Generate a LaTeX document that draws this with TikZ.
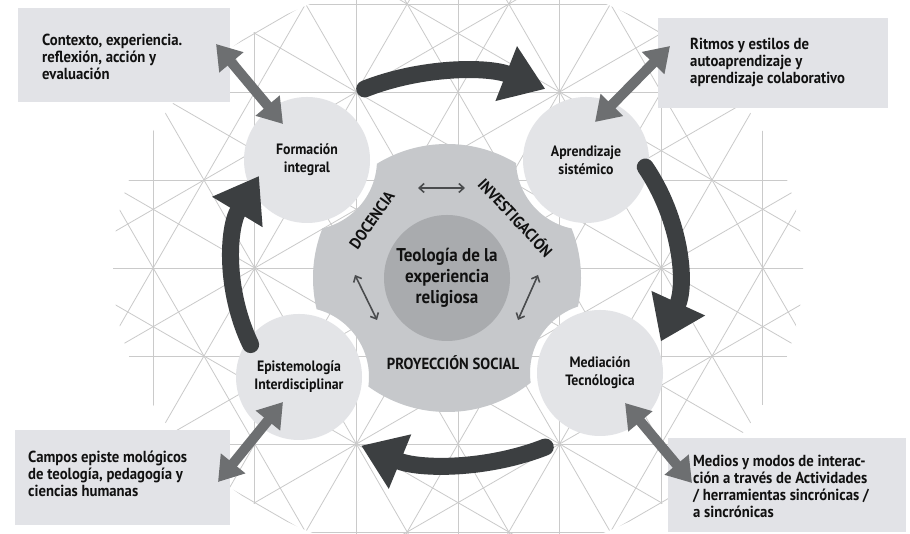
\documentclass[tikz,border=0pt]{standalone}
\usepackage{fontspec}
\setmainfont{PT Sans}[FakeStretch=0.92]
\usetikzlibrary{arrows.meta,calc}
\definecolor{boxgray}{HTML}{E2E3E7}
\definecolor{circgray}{HTML}{E3E4E7}
\definecolor{midgray}{HTML}{C6C8CB}
\definecolor{innergray}{HTML}{A9ABAE}
\definecolor{darkarrow}{HTML}{3C3F41}
\definecolor{medarrow}{HTML}{6D6F71}
\definecolor{smallarrow}{HTML}{4A4C4E}
\definecolor{latt}{HTML}{CACACA}
\definecolor{txt}{HTML}{111111}
\begin{document}
\begin{tikzpicture}[x=1pt,y=1pt,
  infobox/.style={fill=boxgray, draw=none, anchor=south west, inner sep=0},
  infotext/.style={anchor=west, align=left, font=\fontsize{16}{17}\selectfont\bfseries, text=txt, inner sep=0},
  topic/.style={circle, fill=circgray, minimum size=126pt, inner sep=0, align=center, font=\fontsize{15}{18}\selectfont\bfseries, text=txt},
  axislabel/.style={font=\fontsize{16}{17}\selectfont\bfseries, text=txt, inner sep=0},
  flow/.style={draw=darkarrow, line width=17pt, line cap=round, -{Triangle[width=56pt,length=42pt]}},
  link/.style={draw=medarrow, line width=10pt, {Triangle[width=30pt,length=24pt]}-{Triangle[width=30pt,length=24pt]}},
  relation/.style={draw=smallarrow, line width=1.6pt, {Straight Barb[width=9pt,length=5pt]}-{Straight Barb[width=9pt,length=5pt]}},
  latline/.style={draw=latt, line width=0.8pt}
]
\useasboundingbox (0,0) rectangle (910,534);
\fill[white] (0,0) rectangle (910,534);

% lattice background
\coordinate (L) at (458,266);
\begin{scope}
  \clip (0,0) rectangle (910,534);
  \clip (L) ellipse [x radius=345, y radius=292];
  \foreach \a in {0,60,120}{
    \foreach \k in {-6,...,6}{
      \draw[latline] ($(L)+(\a+90:\k*88)+(\a:-700)$) -- ($(L)+(\a+90:\k*88)+(\a:700)$);
    }}
  \foreach \a in {30,90,150}{
    \foreach \k in {-5,...,5}{
      \draw[latline] ($(L)+(\a+90:\k*101.6)+(\a:-700)$) -- ($(L)+(\a+90:\k*101.6)+(\a:700)$);
    }}
\end{scope}

% centre positions
\coordinate (M) at (447,256);
\coordinate (pFI) at (307,374);
\coordinate (pAS) at (586,374);
\coordinate (pEI) at (299,157);
\coordinate (pMT) at (600,161);

% notched grey shape
\begin{scope}[even odd rule]
  \clip (0,0) rectangle (910,534)
     (pFI) circle (70) (pAS) circle (70) (pEI) circle (70) (pMT) circle (70);
  \fill[midgray] (M) circle (134);
\end{scope}
\node[circle, fill=innergray, minimum size=126pt, inner sep=0, align=center,
      font=\fontsize{18.5}{21}\selectfont\bfseries, text=txt] (core) at (M)
      {Teología de la\\experiencia\\religiosa};

% topic circles
\node[topic] (fi) at (pFI) {Formación\\integral};
\node[topic] (as) at (pAS) {Aprendizaje\\sistémico};
\node[topic] (ei) at (pEI) {Epistemología\\Interdisciplinar};
\node[topic] (mt) at (pMT) {Mediación\\Tecnólogica};

% info boxes
\node[infobox, minimum width=212pt, minimum height=94pt] (tlbox) at (18,432) {};
\node[infobox, minimum width=230pt, minimum height=90pt] (trbox) at (658,426) {};
\node[infobox, minimum width=215pt, minimum height=95pt] (blbox) at (15,9) {};
\node[infobox, minimum width=238pt, minimum height=94pt] (brbox) at (668,2) {};

\node[infotext] (tltext) at (42,477) {Contexto, experiencia.\\reflexión, acción y\\evaluación};
\node[infotext] (trtext) at (690,472) {Ritmos y estilos de\\autoaprendizaje y\\aprendizaje colaborativo};
\node[infotext] (bltext) at (28,60) {Campos episte mológicos\\de teología, pedagogía y\\ciencias humanas};
\node[infotext] (brtext) at (693,48) {Medios y modos de interac-\\ción a través de Actividades\\/ herramientas sincrónicas /\\a sincrónicas};

% links between boxes and circles
\coordinate (tlA) at (216,490); \coordinate (tlB) at (283,410);
\coordinate (trA) at (670,488); \coordinate (trB) at (595,412);
\coordinate (blA) at (218,52);  \coordinate (blB) at (283,132);
\coordinate (brA) at (692,51);  \coordinate (brB) at (625,131);
\draw[link] (tlA) -- (tlB);
\draw[link] (trA) -- (trB);
\draw[link] (blA) -- (blB);
\draw[link] (brA) -- (brB);

% big cycle arrows
\coordinate (C) at (455,266);
\coordinate (f1) at ($(C)+(114:222 and 196)$);
\coordinate (f2) at ($(C)+(31:222 and 196)$);
\coordinate (f3) at ($(C)+(-66:222 and 196)$);
\coordinate (f4) at ($(C)+(203:222 and 196)$);
\draw[flow] (f1) arc[start angle=114, end angle=66, x radius=222, y radius=196];
\draw[flow] (f2) arc[start angle=31, end angle=-22, x radius=222, y radius=196];
\draw[flow] (f3) arc[start angle=-66, end angle=-115, x radius=222, y radius=196];
\draw[flow] (f4) arc[start angle=203, end angle=152, x radius=222, y radius=196];

% axis labels
\node[axislabel, rotate=55] (doc) at (372,314) {DOCENCIA};
\node[axislabel, rotate=-47] (inv) at (516,317) {INVESTIGACIÓN};
\node[axislabel] (proy) at (453,171) {PROYECCIÓN SOCIAL};

% small relation arrows
\coordinate (hA) at (418,346); \coordinate (hB) at (465,346);
\coordinate (lA) at (355,259); \coordinate (lB) at (377,214);
\coordinate (rA) at (538,259); \coordinate (rB) at (518,214);
\draw[relation] (hA) -- (hB);
\draw[relation] (lA) -- (lB);
\draw[relation] (rA) -- (rB);
\end{tikzpicture}
\end{document}
